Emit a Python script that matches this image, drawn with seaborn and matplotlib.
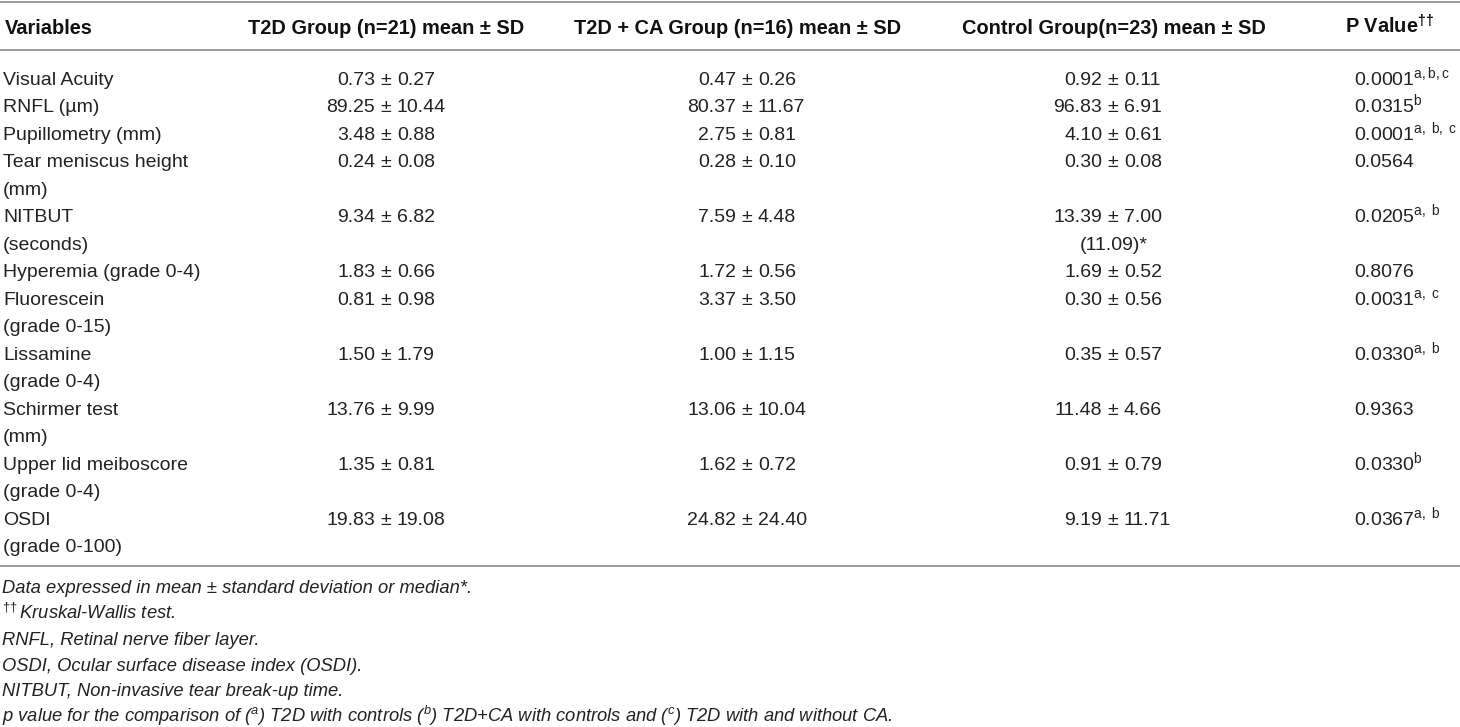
import seaborn as sns
import matplotlib.pyplot as plt

# table content
headers = ["Variables", "T2D Group (n=21) mean ± SD", "T2D + CA Group (n=16) mean ± SD",
           "Control Group(n=23) mean ± SD", r"P Value$^{\mathbf{\dagger\!\dagger}}$"]
variables = [["Visual Acuity"], ["RNFL (µm)"], ["Pupillometry (mm)"],
             ["Tear meniscus height", "(mm)"], ["NITBUT", "(seconds)"],
             ["Hyperemia (grade 0-4)"], ["Fluorescein", "(grade 0-15)"],
             ["Lissamine", "(grade 0-4)"], ["Schirmer test", "(mm)"],
             ["Upper lid meiboscore", "(grade 0-4)"], ["OSDI", "(grade 0-100)"]]
t2d_mean = ["0.73", "89.25", "3.48", "0.24", "9.34", "1.83", "0.81", "1.50", "13.76", "1.35", "19.83"]
t2d_sd = ["0.27", "10.44", "0.88", "0.08", "6.82", "0.66", "0.98", "1.79", "9.99", "0.81", "19.08"]
ca_mean = ["0.47", "80.37", "2.75", "0.28", "7.59", "1.72", "3.37", "1.00", "13.06", "1.62", "24.82"]
ca_sd = ["0.26", "11.67", "0.81", "0.10", "4.48", "0.56", "3.50", "1.15", "10.04", "0.72", "24.40"]
ctrl_mean = ["0.92", "96.83", "4.10", "0.30", "13.39", "1.69", "0.30", "0.35", "11.48", "0.91", "9.19"]
ctrl_sd = ["0.11", "6.91", "0.61", "0.08", "7.00", "0.52", "0.56", "0.57", "4.66", "0.79", "11.71"]
ctrl_extra = {4: "(11.09)*"}
p_values = ["0.0001", "0.0315", "0.0001", "0.0564", "0.0205", "0.8076", "0.0031", "0.0330", "0.9363", "0.0330", "0.0367"]
p_sup = ["a,b,c", "b", "a, b, c", "", "a, b", "", "a, c", "a, b", "", "b", "a, b"]
footnotes = [
    "Data expressed in mean ± standard deviation or median*.",
    r"$^{\dagger\!\dagger}$Kruskal-Wallis test.",
    "RNFL, Retinal nerve fiber layer.",
    "OSDI, Ocular surface disease index (OSDI).",
    "NITBUT, Non-invasive tear break-up time.",
    r"p value for the comparison of ($^{a}$) T2D with controls ($^{b}$) T2D+CA with controls and ($^{c}$) T2D with and without CA.",
]

sns.set_theme(style="white")
plt.rcParams['font.family'] = ['Liberation Sans', 'DejaVu Sans']
plt.rcParams['mathtext.fontset'] = 'custom'
plt.rcParams['mathtext.rm'] = 'Liberation Sans'
plt.rcParams['mathtext.it'] = 'Liberation Sans:italic'
plt.rcParams['mathtext.bf'] = 'Liberation Sans:bold'

W, H = 1460, 727
fig = plt.figure(figsize=(W / 100, H / 100), dpi=100)
ax = fig.add_axes([0, 0, 1, 1])
ax.set_xlim(0, W)
ax.set_ylim(H, 0)
ax.axis('off')

txt = '#222222'
rule = '#9a9a9a'
fs = 14
hfs = 14.4
ffs = 13.2
bl = 6.7  # offset from text centre to baseline (px)

# rules
for y in (2, 50, 566):
    ax.axhline(y, color=rule, lw=1.4)

# header
head_y = 27 + bl
ax.text(5, head_y, headers[0], fontsize=hfs, fontweight='bold', color='#111', va='baseline', ha='left')
for x, h in zip((386, 738, 1114), headers[1:4]):
    ax.text(x, head_y, h, fontsize=hfs, fontweight='bold', color='#111', va='baseline', ha='center')
ax.text(1345, head_y, headers[4], fontsize=hfs, fontweight='bold', color='#111', va='baseline', ha='left')

# body
y0, dy = 78 + bl, 27.5
gap = 10.8
pm_x = [386, 747, 1113]
line = 0
for i, lab in enumerate(variables):
    y = y0 + line * dy
    for k, part in enumerate(lab):
        ax.text(3, y + k * dy, part, fontsize=fs, color=txt, va='baseline', ha='left')
    for x, m, s in zip(pm_x, (t2d_mean, ca_mean, ctrl_mean), (t2d_sd, ca_sd, ctrl_sd)):
        ax.text(x, y, "±", fontsize=fs, color=txt, va='baseline', ha='center')
        ax.text(x - gap, y, m[i], fontsize=fs, color=txt, va='baseline', ha='right')
        ax.text(x + gap, y, s[i], fontsize=fs, color=txt, va='baseline', ha='left')
    if i in ctrl_extra:
        ax.text(1114, y + dy, ctrl_extra[i], fontsize=fs, color=txt, va='baseline', ha='center')
    p = p_values[i]
    if p_sup[i]:
        sup = p_sup[i].replace(' ', r'\ ')
        p = p + r"$^{\mathrm{" + sup + "}}$"
    ax.text(1354, y, p, fontsize=fs, color=txt, va='baseline', ha='left')
    line += len(lab)

# footnotes
fy0, fdy = 587 + 6.3, 25.8
for j, note in enumerate(footnotes):
    ax.text(2, fy0 + j * fdy, note, fontsize=ffs, style='italic', color=txt, va='baseline', ha='left')

fig.savefig('out.png', dpi=100)
